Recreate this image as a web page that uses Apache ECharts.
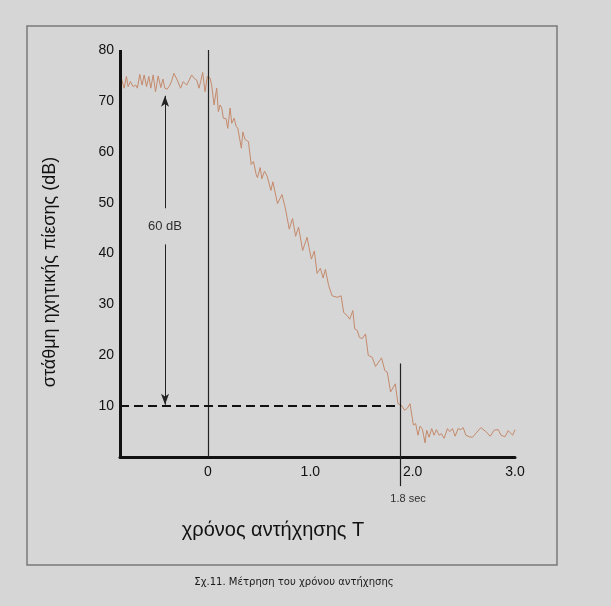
<!DOCTYPE html>
<html>
<head>
<meta charset="utf-8">
<script src="https://cdn.jsdelivr.net/npm/echarts@6/dist/echarts.min.js"></script>
<style>
    html, body { margin: 0; padding: 0; background: #d6d6d6; }
    #chart { width: 611px; height: 606px; }
</style>
</head>
<body>
<div id="chart"></div>
<script>
var timeSec = [
    -0.856, -0.820, -0.797, -0.781, -0.758, -0.732, -0.706, -0.690, -0.667, -0.644,
    -0.624, -0.601, -0.578, -0.559, -0.536, -0.513, -0.487, -0.461, -0.441, -0.422,
    -0.399, -0.373, -0.356, -0.333, -0.301, -0.268, -0.242, -0.209, -0.183, -0.160,
    -0.134, -0.111, -0.088, -0.072, -0.052, -0.029, -0.007,
    0.000, 0.020, 0.036, 0.059, 0.085, 0.101, 0.118, 0.134, 0.150, 0.176,
    0.193, 0.216, 0.232, 0.255, 0.275, 0.291, 0.307, 0.326, 0.340, 0.363,
    0.395, 0.422, 0.444, 0.471, 0.483, 0.510, 0.526, 0.552, 0.578, 0.615,
    0.634, 0.679, 0.723, 0.755, 0.772, 0.794, 0.826, 0.856, 0.885, 0.902,
    0.925, 0.968, 0.987, 1.010, 1.039, 1.066, 1.098, 1.125, 1.147, 1.179,
    1.213, 1.262, 1.301, 1.326, 1.360, 1.385, 1.415, 1.434, 1.458, 1.480,
    1.507, 1.539, 1.566, 1.605, 1.637, 1.696, 1.728, 1.752, 1.784, 1.830,
    1.856, 1.889, 1.922, 1.948, 1.974, 2.007, 2.029, 2.052, 2.072, 2.095,
    2.121, 2.137, 2.160, 2.186, 2.209, 2.232, 2.258, 2.281, 2.307, 2.340,
    2.363, 2.389, 2.415, 2.444, 2.471, 2.493, 2.520, 2.552, 2.585, 2.618,
    2.667, 2.716, 2.758, 2.797, 2.836, 2.863, 2.902, 2.934, 2.977, 3.000
];
var levelDb = [
    75.1, 72.5, 74.8, 72.8, 73.8, 72.8, 73.1, 72.5, 75.2, 73.1,
    75.1, 72.8, 74.8, 72.5, 75.1, 71.8, 74.9, 72.6, 74.3, 72.5,
    72.3, 73.1, 73.9, 75.4, 74.1, 72.5, 73.8, 73.1, 74.1, 75.1,
    74.4, 74.1, 72.5, 73.8, 75.6, 71.8, 74.8,
    74.8, 74.5, 73.1, 69.2, 72.5, 67.9, 69.2, 68.6, 66.6, 66.5,
    64.6, 68.6, 65.6, 66.6, 65.0, 64.6, 64.7, 60.7, 63.9, 62.4,
    62.0, 57.5, 58.1, 55.5, 54.9, 56.9, 54.7, 56.2, 55.2, 52.4,
    54.1, 49.8, 51.6, 49.0, 49.0, 44.8, 46.9, 43.4, 45.2, 44.9,
    40.6, 43.2, 41.2, 38.9, 40.5, 36.1, 37.1, 35.2, 36.9, 33.7,
    31.7, 31.4, 31.7, 28.4, 27.8, 27.1, 28.8, 25.2, 24.9, 23.5,
    23.3, 24.2, 20.0, 19.6, 17.8, 19.5, 17.0, 16.7, 12.8, 14.4,
    10.5, 10.2, 9.2, 9.6, 10.5, 6.3, 6.6, 4.3, 6.1, 5.5,
    2.8, 5.3, 3.9, 5.6, 4.3, 5.4, 4.3, 4.6, 3.7, 5.6,
    5.0, 5.6, 4.1, 5.6, 5.4, 5.8, 4.3, 4.0, 3.9, 4.7,
    5.8, 5.0, 4.1, 5.3, 5.4, 4.3, 4.0, 5.2, 4.3, 5.4
];
var xTicks = [0, 1, 2, 3];
var xMin = -0.86;
var startTime = 0;          // switch-off of the source
var rtTime = 1.88;          // where the vertical "1.8 sec" mark is drawn
var rtLabel = '1.8 sec';
var startLevel = 71;        // top of the 60 dB arrow
var endLevel = 10;          // bottom of the 60 dB arrow / dashed line
var arrowTime = -0.42;
var noteLevel = 45.3;

var noiseData = timeSec.map(function (t, i) { return [t, levelDb[i]]; });

var chart = echarts.init(document.getElementById('chart'));
var font = '"Liberation Sans", Arial, sans-serif';

chart.setOption({
    backgroundColor: '#d6d6d6',
    animation: false,
    // y runs down to -10 so the 1.8 sec mark can hang below the time axis
    grid: { left: 120, right: 96, top: 50, bottom: 98 },
    xAxis: {
        type: 'value',
        min: xMin,
        max: 3,
        splitLine: { show: false },
        axisTick: { show: false },
        axisLine: { onZero: true, lineStyle: { color: '#111', width: 3 } },
        axisLabel: {
            customValues: xTicks,
            color: '#111',
            fontFamily: font,
            fontSize: 14,
            margin: -43,
            formatter: function (v) { return v === 0 ? '0' : v.toFixed(1); }
        }
    },
    yAxis: {
        type: 'value',
        min: -10,
        max: 80,
        interval: 10,
        splitLine: { show: false },
        axisTick: { show: false },
        axisLine: { show: false, onZero: false },
        axisLabel: {
            color: '#111',
            fontFamily: font,
            fontSize: 14,
            margin: 6,
            formatter: function (v) { return v <= 0 ? '' : String(v); }
        }
    },
    graphic: [
        {
            type: 'rect',
            shape: { x: 27, y: 26, width: 530, height: 539 },
            style: { fill: 'none', stroke: '#7a7a7a', lineWidth: 1.5 },
            z: -1
        },
        {
            type: 'text',
            x: 50, y: 272,
            rotation: Math.PI / 2,
            style: {
                text: 'στάθμη ηχητικής πίεσης (dB)',
                fill: '#111', font: '18px ' + font,
                align: 'center', verticalAlign: 'middle'
            }
        },
        {
            type: 'text',
            x: 273, y: 530,
            style: {
                text: 'χρόνος αντήχησης T',
                fill: '#111', font: '20px ' + font,
                align: 'center', verticalAlign: 'middle'
            }
        },
        {
            type: 'text',
            x: 294, y: 582,
            style: {
                text: 'Σχ.11. Μέτρηση του χρόνου αντήχησης',
                fill: '#1a1a1a', font: '11.2px "Liberation Sans Narrow", "DejaVu Sans Condensed", sans-serif',
                align: 'center', verticalAlign: 'middle'
            }
        }
    ],
    series: [
        {
            type: 'line',
            data: noiseData,
            showSymbol: false,
            lineStyle: { color: '#c58a6c', width: 1 },
            z: 3
        },
        {
            type: 'scatter',
            clip: false,
            symbolSize: 0,
            data: [
                { value: [arrowTime, noteLevel], label: { formatter: '60 dB', fontSize: 13 } },
                { value: [rtTime + 0.075, -8.3], label: { formatter: rtLabel, fontSize: 11 } }
            ],
            label: {
                show: true, position: [0, 0], align: 'center', verticalAlign: 'middle',
                color: '#000', fontFamily: font
            },
            markLine: {
                silent: true,
                symbol: 'none',
                label: { show: false },
                lineStyle: { color: '#222', width: 1.2, type: 'solid' },
                data: [
                    // the y axis itself, stopping at the time axis
                    [{ coord: [xMin, 0], lineStyle: { color: '#111', width: 3 } }, { coord: [xMin, 80] }],
                    [{ coord: [startTime, 80] }, { coord: [startTime, 0] }],
                    [{ coord: [rtTime, 18.4] }, { coord: [rtTime, -5.7] }],
                    [{ coord: [xMin, endLevel], lineStyle: { color: '#111', width: 2, type: [9, 5] } },
                     { coord: [rtTime, endLevel] }],
                    [{ coord: [arrowTime, 48.9], symbol: 'none', lineStyle: { width: 1 } },
                     { coord: [arrowTime, startLevel], symbol: 'arrow', symbolSize: [6, 11] }],
                    [{ coord: [arrowTime, 41.8], symbol: 'none', lineStyle: { width: 1 } },
                     { coord: [arrowTime, endLevel + 0.3], symbol: 'arrow', symbolSize: [6, 11] }]
                ]
            }
        }
    ]
});
</script>
</body>
</html>
